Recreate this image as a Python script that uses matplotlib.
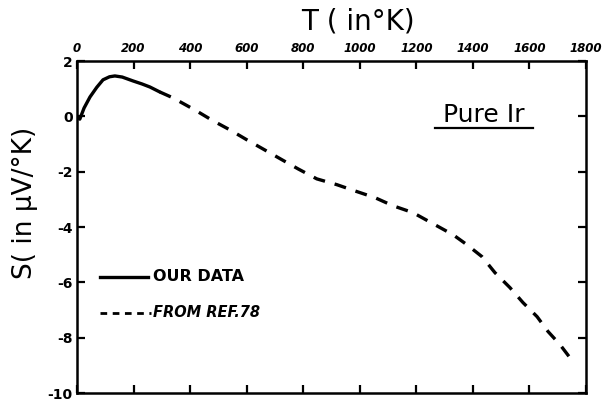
import matplotlib
matplotlib.use("Agg")
import matplotlib.pyplot as plt

# Thermopower of pure iridium
t_ours = [0, 10, 25, 46, 70, 92, 115, 134, 160, 198, 230, 258, 293]
s_ours = [-0.05, -0.1, 0.3, 0.7, 1.05, 1.32, 1.43, 1.46, 1.42, 1.28, 1.17, 1.06, 0.88]

t_ref = [293, 339, 417, 481, 541, 601, 658, 725, 782, 848, 919, 990, 1054,
         1117, 1188, 1259, 1330, 1379, 1432, 1478, 1531, 1577, 1627, 1666,
         1708, 1743]
s_ref = [0.88, 0.67, 0.23, -0.16, -0.49, -0.85, -1.18, -1.57, -1.9, -2.26,
         -2.47, -2.72, -2.94, -3.23, -3.48, -3.88, -4.28, -4.64, -5.07, -5.65,
         -6.19, -6.73, -7.24, -7.78, -8.25, -8.72]

x_ticks = [0, 200, 400, 600, 800, 1000, 1200, 1400, 1600, 1800]
y_ticks = [2, 0, -2, -4, -6, -8, -10]

fig = plt.figure(figsize=(6.12, 4.04), dpi=100)
ax = fig.add_axes([0.1258, 0.0272, 0.8317, 0.8218])

ax.plot(t_ours, s_ours, color="black", lw=2.4, solid_capstyle="round")
ax.plot(t_ref, s_ref, color="black", lw=2.4, linestyle=(0, (3.6, 3.0)))

ax.set_xlim(0, 1800)
ax.set_ylim(-10, 2)
ax.set_xticks(x_ticks)
ax.set_yticks(y_ticks)
ax.set_xticklabels([str(v) for v in x_ticks], fontsize=8.5, fontweight="bold",
                   fontstyle="italic")
ax.set_yticklabels([str(v) for v in y_ticks], fontsize=10, fontweight="bold")
ax.xaxis.set_ticks_position("both")
ax.yaxis.set_ticks_position("both")
ax.tick_params(axis="x", which="both", direction="in", length=6, width=1.6,
               labeltop=True, labelbottom=False, pad=4)
ax.tick_params(axis="y", which="both", direction="in", length=6, width=1.6,
               labelleft=True, labelright=False, pad=3)
for sp in ax.spines.values():
    sp.set_linewidth(1.8)

fig.text(0.585, 0.948, "T ( in°K)", fontsize=20, ha="center", va="center")
fig.text(0.041, 0.497, "S( in μV/°K)", fontsize=19, ha="center", va="center",
         rotation=90)

# legend drawn by hand
ax.plot([80, 250], [-5.8, -5.8], color="black", lw=2.4)
ax.text(268, -5.8, "OUR DATA", fontsize=11.5, fontweight="bold", va="center")
ax.plot([80, 262], [-7.1, -7.1], color="black", lw=2.0,
        linestyle=(0, (2.4, 2.0)))
ax.text(270, -7.1, "FROM REF.78", fontsize=10.5, fontweight="bold",
        fontstyle="italic", va="center")

ax.text(1439, 0.05, "Pure Ir", fontsize=18, ha="center", va="center")
ax.plot([1266, 1612], [-0.42, -0.42], color="black", lw=1.6)

fig.savefig("out.png", dpi=100)
